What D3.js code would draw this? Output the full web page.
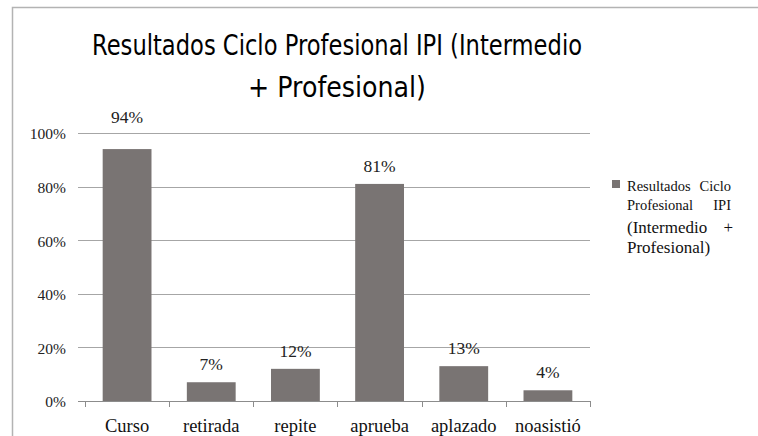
<!DOCTYPE html>
<html>
<head>
<meta charset="utf-8">
<script src="https://cdn.jsdelivr.net/npm/d3@7"></script>
<style>
  body { margin: 0; background: #fff; }
  svg { display: block; }
  .serif { font-family: 'Liberation Serif', 'Times New Roman', serif; }
  .title { font-family: 'DejaVu Sans', sans-serif; }
</style>
</head>
<body>
<svg id="chart" width="758" height="436"></svg>
<script>
// data
const categories = ['Curso', 'retirada', 'repite', 'aprueba', 'aplazado', 'noasistió'];
const values = [0.94, 0.07, 0.12, 0.81, 0.13, 0.04];
const yTicks = [0, 0.2, 0.4, 0.6, 0.8, 1.0];
const titleLines = ['Resultados Ciclo Profesional IPI (Intermedio', '+ Profesional)'];
const legendLines = [['Resultados', 'Ciclo'], ['Profesional', 'IPI'], ['(Intermedio', '+'], ['Profesional)']];

const svg = d3.select('#chart');
const barColor = '#797473';
const pct = d3.format('.0%');

// frame (only left + top edges show in the shot)
svg.append('path')
  .attr('d', 'M12.5,436 V7.5 H758')
  .attr('fill', 'none')
  .attr('stroke', '#b3b3b3')
  .attr('stroke-width', 1.5);

// title - squeezed, the original font is narrower than DejaVu
const titleWidths = [490, 178];
svg.append('g').selectAll('text').data(titleLines).join('text')
  .attr('class', 'title')
  .attr('x', 337)
  .attr('y', (d, i) => 55 + i * 42)
  .attr('text-anchor', 'middle')
  .style('font-size', '29px')
  .attr('fill', '#000')
  .attr('textLength', (d, i) => titleWidths[i])
  .attr('lengthAdjust', 'spacingAndGlyphs')
  .text(d => d);

let x = d3.scaleBand().domain(categories).range([85, 590]).paddingInner(0.42).paddingOuter(0.21);
let y = d3.scaleLinear().domain([0, 1]).range([401, 133]);

// gridlines
svg.append('g').selectAll('line').data(yTicks.slice(1)).join('line')
  .attr('x1', 78).attr('x2', 590)
  .attr('y1', d => Math.round(y(d)) + 0.5)
  .attr('y2', d => Math.round(y(d)) + 0.5)
  .attr('stroke', '#a6a6a6');

// y axis labels
let yAxis = d3.axisLeft(y).tickValues(yTicks).tickFormat(pct).tickSize(0).tickPadding(0);
svg.append('g')
  .attr('transform', 'translate(66,1)')
  .call(yAxis)
  .attr('font-family', null)
  .call(g => g.select('.domain').remove())
  .call(g => g.selectAll('text')
    .attr('class', 'serif')
    .style('font-size', '15.5px')
    .attr('fill', '#222'));

// bars
svg.append('g').selectAll('rect').data(values).join('rect')
  .attr('x', (d, i) => x(categories[i]))
  .attr('y', d => y(d))
  .attr('width', x.bandwidth())
  .attr('height', d => y(0) - y(d))
  .attr('fill', barColor);

// value labels; one that would sit on the top gridline is lifted above it
svg.append('g').selectAll('text').data(values).join('text')
  .attr('class', 'serif')
  .attr('x', (d, i) => x(categories[i]) + x.bandwidth() / 2)
  .attr('y', d => {
    let b = y(d) - 12;
    return b - 14 < y(1) ? y(1) - 10 : b;
  })
  .attr('text-anchor', 'middle')
  .style('font-size', '17.5px')
  .attr('fill', '#222')
  .text(pct);

// x axis with ticks at band edges
let edges = categories.map(c => x(c) - x.step() * x.paddingInner() / 2).concat([590]);
let xg = svg.append('g');
xg.append('line')
  .attr('x1', 78).attr('x2', 590)
  .attr('y1', 401.5).attr('y2', 401.5)
  .attr('stroke', '#8c8c8c');
xg.selectAll('.tk').data(edges).join('line')
  .attr('class', 'tk')
  .attr('x1', d => Math.round(d) + 0.5).attr('x2', d => Math.round(d) + 0.5)
  .attr('y1', 401).attr('y2', 407)
  .attr('stroke', '#8c8c8c');
xg.selectAll('text').data(categories).join('text')
  .attr('class', 'serif')
  .attr('x', d => x(d) + x.bandwidth() / 2)
  .attr('y', 432)
  .attr('text-anchor', 'middle')
  .style('font-size', '18.5px')
  .attr('fill', '#111')
  .text(d => d);

// legend
let lg = svg.append('g');
lg.append('rect')
  .attr('x', 612).attr('y', 180).attr('width', 8).attr('height', 8)
  .attr('fill', barColor);
legendLines.forEach((words, i) => {
  let fs = i < 2 ? 14.5 : 17;
  let yy = [191, 210, 233, 253][i];
  lg.append('text')
    .attr('class', 'serif')
    .attr('x', 627).attr('y', yy)
    .style('font-size', fs + 'px').attr('fill', '#111')
    .text(words[0]);
  if (words[1]) {
    lg.append('text')
      .attr('class', 'serif')
      .attr('x', i == 2 ? 733 : 731).attr('y', yy)
      .attr('text-anchor', 'end')
      .style('font-size', fs + 'px').attr('fill', '#111')
      .text(words[1]);
  }
});
</script>
</body>
</html>
